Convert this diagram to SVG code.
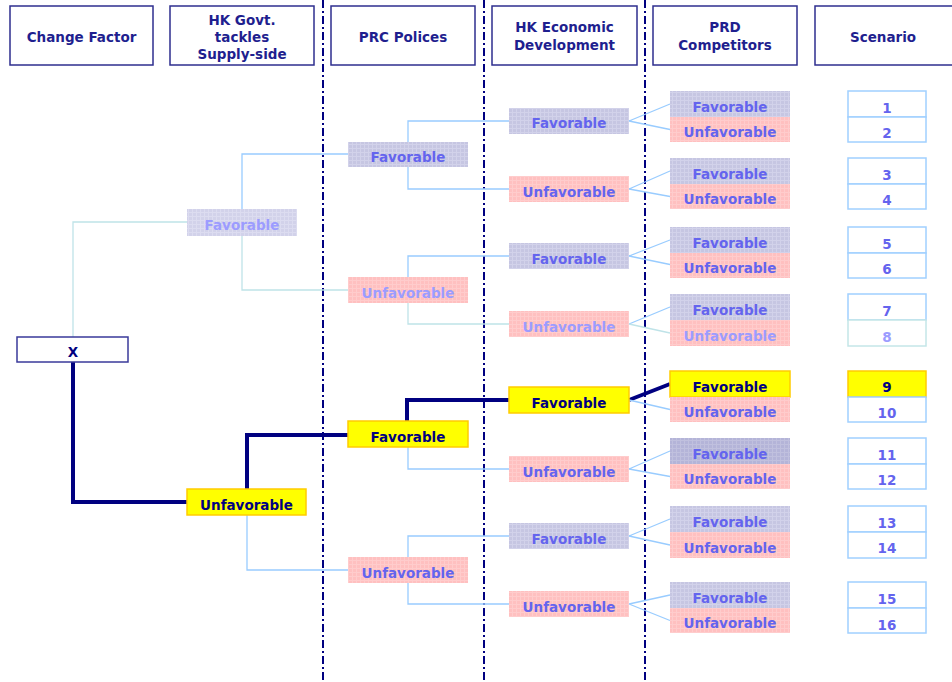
<svg xmlns="http://www.w3.org/2000/svg" width="952" height="682" viewBox="0 0 952 682">
<defs>
<pattern id="pFav" width="4" height="4" patternUnits="userSpaceOnUse">
<rect width="4" height="4" fill="#c6c6e2"/>
<path d="M0,0.5H4M0.5,0V4" stroke="#d2d2ea" stroke-width="1"/>
</pattern>
<pattern id="pFavDk" width="4" height="4" patternUnits="userSpaceOnUse">
<rect width="4" height="4" fill="#b4b4d8"/>
<path d="M0,0.5H4M0.5,0V4" stroke="#c0c0de" stroke-width="1"/>
</pattern>
<pattern id="pFavLt" width="4" height="4" patternUnits="userSpaceOnUse">
<rect width="4" height="4" fill="#d2d2ea"/>
<path d="M0,0.5H4M0.5,0V4" stroke="#dcdcf0" stroke-width="1"/>
</pattern>
<pattern id="pUnf" width="4" height="4" patternUnits="userSpaceOnUse">
<rect width="4" height="4" fill="#ffc0c0"/>
<path d="M0,0.5H4M0.5,0V4" stroke="#ffcccc" stroke-width="1"/>
</pattern>
</defs>
<style>
text{font-family:"DejaVu Sans","Liberation Sans",sans-serif;font-weight:bold;text-anchor:middle;font-size:13.5px}
.hdr rect{fill:#ffffff;stroke:#2e2e8e;stroke-width:1.5}
.hdr text{fill:#1f1f8f}
.fav{fill:url(#pFav)}
.favdk{fill:url(#pFavDk)}
.favlt{fill:url(#pFavLt)}
.unf{fill:url(#pUnf)}
.sel{fill:#ffff00;stroke:#ffcc00;stroke-width:1.5}
.t{fill:#6464ee}
.tf{fill:#9c9cff}
.ts{fill:#000080}
.sc{fill:#ffffff;stroke:#a0d0ff;stroke-width:1.5}
.scf{fill:#ffffff;stroke:#c4e6e8;stroke-width:1.5}
.sep{stroke:#000080;stroke-width:2;stroke-dasharray:8 3 2 3;fill:none}
.c{fill:none;stroke:#99ccff;stroke-width:1.3}
.cf{fill:none;stroke:#bfe3e8;stroke-width:1.3}
.cs{fill:none;stroke:#000080;stroke-width:4}
</style>

<g id="separators">
<line class="sep" x1="323" y1="0" x2="323" y2="682"/>
<line class="sep" x1="484" y1="0" x2="484" y2="682"/>
<line class="sep" x1="645" y1="0" x2="645" y2="682"/>
</g>

<g id="headers" class="hdr">
<g id="h-change"><rect x="10" y="6" width="143" height="59"/><text x="81.5" y="42">Change Factor</text></g>
<g id="h-hkgovt"><rect x="170" y="6" width="144" height="59"/><text x="242" y="25">HK Govt.</text><text x="242" y="42">tackles</text><text x="242" y="59">Supply-side</text></g>
<g id="h-prc"><rect x="331" y="6" width="144" height="59"/><text x="403" y="42">PRC Polices</text></g>
<g id="h-hkecon"><rect x="492" y="6" width="145" height="59"/><text x="564.5" y="32">HK Economic</text><text x="564.5" y="50">Development</text></g>
<g id="h-prd"><rect x="653" y="6" width="144" height="59"/><text x="725" y="32">PRD</text><text x="725" y="50">Competitors</text></g>
<g id="h-scen"><rect x="815" y="6" width="140" height="59"/><text x="883" y="42">Scenario</text></g>
</g>

<g id="connectors">
<path class="cf" d="M73,337V222H187"/>
<path class="cs" d="M73,362V502H187"/>
<path class="c" d="M242,209V154H348"/>
<path class="cf" d="M242,236V290H348"/>
<path class="cs" d="M247,489V435H348"/>
<path class="c" d="M247,515V570H348"/>
<path class="c" d="M408,142V121H509"/>
<path class="c" d="M408,167V189H509"/>
<path class="c" d="M408,277V256H509"/>
<path class="cf" d="M408,303V324H509"/>
<path class="cs" d="M407,421V400H509"/>
<path class="c" d="M408,447V469H509"/>
<path class="c" d="M408,557V536H509"/>
<path class="c" d="M408,583V604H509"/>
<path class="c" d="M629,121L670,104M629,121L670,129.5"/>
<path class="c" d="M629,189L670,171M629,189L670,196.5"/>
<path class="c" d="M629,256L670,240M629,256L670,264.5"/>
<path class="c" d="M629,324L670,307"/>
<path class="cf" d="M629,324L670,333"/>
<path class="cs" d="M629,400L670,384"/>
<path class="c" d="M629,400L670,409.5"/>
<path class="c" d="M629,469L670,451M629,469L670,476.5"/>
<path class="c" d="M629,536L670,519M629,536L670,545"/>
<path class="c" d="M629,604L670,595M629,604L670,620.5"/>
</g>

<g id="root"><rect x="17" y="337" width="111" height="25" fill="#ffffff" stroke="#3a3a9a" stroke-width="1.5"/><text class="ts" x="73" y="357">X</text></g>

<g id="hk-fav"><rect class="favlt" x="187" y="209" width="110" height="27"/><text class="tf" x="242" y="230">Favorable</text></g>
<g id="hk-unf"><rect class="sel" x="187" y="489" width="119" height="26"/><text class="ts" x="246.5" y="510">Unfavorable</text></g>

<g id="prc-fav1"><rect class="fav" x="348" y="142" width="120" height="25"/><text class="t" x="408" y="162">Favorable</text></g>
<g id="prc-unf1"><rect class="unf" x="348" y="277" width="120" height="26"/><text class="tf" x="408" y="298">Unfavorable</text></g>
<g id="prc-fav2"><rect class="sel" x="348" y="421" width="120" height="26"/><text class="ts" x="408" y="442">Favorable</text></g>
<g id="prc-unf2"><rect class="unf" x="348" y="557" width="120" height="26"/><text class="t" x="408" y="578">Unfavorable</text></g>

<g id="eco-fav1"><rect class="fav" x="509" y="108" width="120" height="26"/><text class="t" x="569" y="128">Favorable</text></g>
<g id="eco-unf1"><rect class="unf" x="509" y="176" width="120" height="26"/><text class="t" x="569" y="197">Unfavorable</text></g>
<g id="eco-fav2"><rect class="fav" x="509" y="243" width="120" height="26"/><text class="t" x="569" y="264">Favorable</text></g>
<g id="eco-unf2"><rect class="unf" x="509" y="311" width="120" height="26"/><text class="tf" x="569" y="332">Unfavorable</text></g>
<g id="eco-fav3"><rect class="sel" x="509" y="387" width="120" height="26"/><text class="ts" x="569" y="408">Favorable</text></g>
<g id="eco-unf3"><rect class="unf" x="509" y="456" width="120" height="26"/><text class="t" x="569" y="477">Unfavorable</text></g>
<g id="eco-fav4"><rect class="fav" x="509" y="523" width="120" height="26"/><text class="t" x="569" y="544">Favorable</text></g>
<g id="eco-unf4"><rect class="unf" x="509" y="591" width="120" height="26"/><text class="t" x="569" y="612">Unfavorable</text></g>

<g id="prd-1"><rect class="fav" x="670" y="91" width="120" height="26"/><text class="t" x="730" y="112">Favorable</text></g>
<g id="prd-2"><rect class="unf" x="670" y="117" width="120" height="25"/><text class="t" x="730" y="137">Unfavorable</text></g>
<g id="prd-3"><rect class="fav" x="670" y="158" width="120" height="26"/><text class="t" x="730" y="179">Favorable</text></g>
<g id="prd-4"><rect class="unf" x="670" y="184" width="120" height="25"/><text class="t" x="730" y="204">Unfavorable</text></g>
<g id="prd-5"><rect class="fav" x="670" y="227" width="120" height="26"/><text class="t" x="730" y="248">Favorable</text></g>
<g id="prd-6"><rect class="unf" x="670" y="253" width="120" height="25"/><text class="t" x="730" y="273">Unfavorable</text></g>
<g id="prd-7"><rect class="fav" x="670" y="294" width="120" height="26"/><text class="t" x="730" y="315">Favorable</text></g>
<g id="prd-8"><rect class="unf" x="670" y="320" width="120" height="26"/><text class="tf" x="730" y="341">Unfavorable</text></g>
<g id="prd-9"><rect class="sel" x="670" y="371" width="120" height="26"/><text class="ts" x="730" y="392">Favorable</text></g>
<g id="prd-10"><rect class="unf" x="670" y="397" width="120" height="25"/><text class="t" x="730" y="417">Unfavorable</text></g>
<g id="prd-11"><rect class="favdk" x="670" y="438" width="120" height="26"/><text class="t" x="730" y="459">Favorable</text></g>
<g id="prd-12"><rect class="unf" x="670" y="464" width="120" height="25"/><text class="t" x="730" y="484">Unfavorable</text></g>
<g id="prd-13"><rect class="fav" x="670" y="506" width="120" height="26"/><text class="t" x="730" y="527">Favorable</text></g>
<g id="prd-14"><rect class="unf" x="670" y="532" width="120" height="26"/><text class="t" x="730" y="553">Unfavorable</text></g>
<g id="prd-15"><rect class="fav" x="670" y="582" width="120" height="26"/><text class="t" x="730" y="603">Favorable</text></g>
<g id="prd-16"><rect class="unf" x="670" y="608" width="120" height="25"/><text class="t" x="730" y="628">Unfavorable</text></g>

<g id="sc-1"><rect class="sc" x="848" y="91" width="78" height="26"/><text class="t" x="887" y="113">1</text></g>
<g id="sc-2"><rect class="sc" x="848" y="117" width="78" height="25"/><text class="t" x="887" y="138">2</text></g>
<g id="sc-3"><rect class="sc" x="848" y="158" width="78" height="26"/><text class="t" x="887" y="180">3</text></g>
<g id="sc-4"><rect class="sc" x="848" y="184" width="78" height="25"/><text class="t" x="887" y="205">4</text></g>
<g id="sc-5"><rect class="sc" x="848" y="227" width="78" height="26"/><text class="t" x="887" y="249">5</text></g>
<g id="sc-6"><rect class="sc" x="848" y="253" width="78" height="25"/><text class="t" x="887" y="274">6</text></g>
<g id="sc-7"><rect class="sc" x="848" y="294" width="78" height="26"/><text class="t" x="887" y="316">7</text></g>
<g id="sc-8"><rect class="scf" x="848" y="320" width="78" height="26"/><text class="tf" x="887" y="342">8</text></g>
<g id="sc-9"><rect class="sel" x="848" y="371" width="78" height="26"/><text class="ts" x="887" y="392">9</text></g>
<g id="sc-10"><rect class="sc" x="848" y="397" width="78" height="25"/><text class="t" x="887" y="418">10</text></g>
<g id="sc-11"><rect class="sc" x="848" y="438" width="78" height="26"/><text class="t" x="887" y="460">11</text></g>
<g id="sc-12"><rect class="sc" x="848" y="464" width="78" height="25"/><text class="t" x="887" y="485">12</text></g>
<g id="sc-13"><rect class="sc" x="848" y="506" width="78" height="26"/><text class="t" x="887" y="528">13</text></g>
<g id="sc-14"><rect class="sc" x="848" y="532" width="78" height="26"/><text class="t" x="887" y="553">14</text></g>
<g id="sc-15"><rect class="sc" x="848" y="582" width="78" height="26"/><text class="t" x="887" y="604">15</text></g>
<g id="sc-16"><rect class="sc" x="848" y="608" width="78" height="25"/><text class="t" x="887" y="630">16</text></g>
</svg>
